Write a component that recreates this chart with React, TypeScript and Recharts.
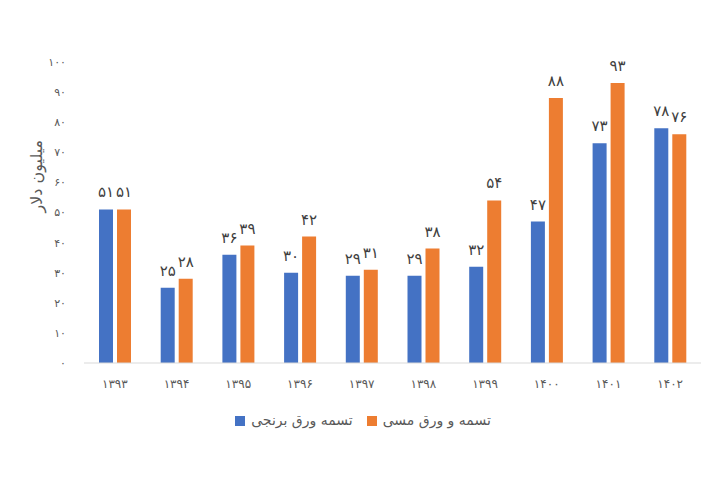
import React from "react"
import {
  Bar,
  BarChart,
  LabelList,
  Legend,
  XAxis,
  YAxis,
} from "recharts"

const years = ["۱۳۹۳", "۱۳۹۴", "۱۳۹۵", "۱۳۹۶", "۱۳۹۷", "۱۳۹۸", "۱۳۹۹", "۱۴۰۰", "۱۴۰۱", "۱۴۰۲"]
const brass = [51, 25, 36, 30, 29, 29, 32, 47, 73, 78]
const copper = [51, 28, 39, 42, 31, 38, 54, 88, 93, 76]
const yTicks = [0, 10, 20, 30, 40, 50, 60, 70, 80, 90, 100]

const data = years.map((year, i) => ({
  year,
  brass: brass[i],
  copper: copper[i],
}))

const faDigits = "۰۱۲۳۴۵۶۷۸۹"
const toFa = (v: number | string) =>
  String(v).replace(/[0-9]/g, (d) => faDigits[Number(d)])

const font = "DejaVu Sans, sans-serif"

export default function App() {
  return (
    <div style={{ position: "absolute", left: 0, top: 0, background: "#fff" }}>
      <BarChart
        width={720}
        height={480}
        data={data}
        margin={{ top: 46, right: 19, left: 0, bottom: 87 }}
        barSize={14}
        barGap={4}
        style={{ fontFamily: font }}
      >
        <XAxis
          dataKey="year"
          axisLine={{ stroke: "#d9d9d9" }}
          tickLine={false}
          tick={{ fill: "#595959", fontSize: 12 }}
          tickMargin={10}
          height={30}
        />
        <YAxis
          domain={[0, 100]}
          ticks={yTicks}
          axisLine={false}
          tickLine={false}
          tick={{ fill: "#595959", fontSize: 11 }}
          tickFormatter={toFa}
          width={84}
          tickMargin={12}
          label={{
            value: "میلیون دلار",
            angle: -90,
            position: "insideLeft",
            offset: 36,
            fill: "#595959",
            fontSize: 16,
          }}
        />
        <Legend
          verticalAlign="top"
          iconType="square"
          iconSize={10}
          itemSorter="dataKey"
          wrapperStyle={{ top: 412, left: 10, width: 720, fontSize: 14, direction: "ltr" }}
          formatter={(value) => (
            <span style={{ color: "#595959", marginLeft: 2, marginRight: 4 }}>{value}</span>
          )}
        />
        <Bar dataKey="brass" name="تسمه ورق برنجی" fill="#4472c4" isAnimationActive={false}>
          <LabelList
            dataKey="brass"
            position="top"
            offset={12}
            fill="#404040"
            fontSize={15}
            formatter={toFa}
          />
        </Bar>
        <Bar dataKey="copper" name="تسمه و ورق مسی" fill="#ed7d31" isAnimationActive={false}>
          <LabelList
            dataKey="copper"
            position="top"
            offset={12}
            fill="#404040"
            fontSize={15}
            formatter={toFa}
          />
        </Bar>
      </BarChart>
    </div>
  )
}
